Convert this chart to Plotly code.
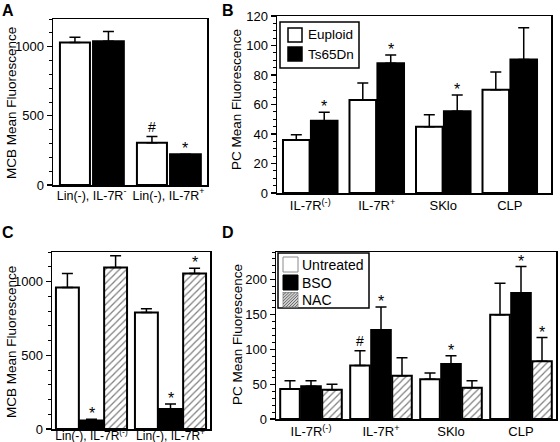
import plotly.graph_objects as go

W, H = 560, 442
FONT = "Liberation Sans, Arial, sans-serif"

# ---------------- data ----------------
# Panel A
a_cats = ["Lin(-), IL-7R<sup>-</sup>", "Lin(-), IL-7R<sup>+</sup>"]
a_euploid = [1030, 305]
a_euploid_err = [38, 45]
a_euploid_mark = ["", "#"]
a_ts65dn = [1040, 222]
a_ts65dn_err = [70, 0]
a_ts65dn_mark = ["", "*"]

# Panel B
b_cats = ["IL-7R<sup>(-)</sup>", "IL-7R<sup>+</sup>", "SKlo", "CLP"]
b_euploid = [36, 63, 45, 70]
b_euploid_err = [3.5, 11.5, 8, 12]
b_euploid_mark = ["", "", "", ""]
b_ts65dn = [49, 88, 55.5, 90.5]
b_ts65dn_err = [5.8, 5.5, 11, 21.5]
b_ts65dn_mark = ["*", "*", "*", ""]

# Panel C
c_cats = ["Lin(-), IL-7R<sup>(-)</sup>", "Lin(-), IL-7R<sup>+</sup>"]
c_untreated = [960, 790]
c_untreated_err = [95, 25]
c_untreated_mark = ["", ""]
c_bso = [58, 135]
c_bso_err = [8, 35]
c_bso_mark = ["*", "*"]
c_nac = [1095, 1055]
c_nac_err = [80, 35]
c_nac_mark = ["", "*"]

# Panel D
d_cats = ["IL-7R<sup>(-)</sup>", "IL-7R<sup>+</sup>", "SKlo", "CLP"]
d_untreated = [43, 77, 57, 150]
d_untreated_err = [12, 21, 9, 45]
d_untreated_mark = ["", "#", "", ""]
d_bso = [47, 128, 79, 181]
d_bso_err = [8, 33, 12, 38]
d_bso_mark = ["", "*", "*", "*"]
d_nac = [42, 62, 45, 83]
d_nac_err = [8, 26, 10, 34]
d_nac_mark = ["", "", "", "*"]

# legend labels
b_legend = ["Euploid", "Ts65Dn"]
d_legend = ["Untreated", "BSO", "NAC"]

# ---------------- layout helpers ----------------
def px(x):
    return x / W

def py(y):
    return 1 - y / H

def dx(l, r):
    return [l / W, r / W]

def dy(t, b):
    return [1 - b / H, 1 - t / H]

fig = go.Figure()
annotations = []
shapes = []

def add_bars(cats, vals, errs, marks, name, style, xa, ya, offset, width):
    if style == "white":
        marker = dict(color="white", line=dict(color="black", width=2))
    elif style == "black":
        marker = dict(color="black", line=dict(color="black", width=2))
    else:
        marker = dict(color="white", line=dict(color="black", width=2),
                      pattern=dict(shape="/", fgcolor="black", bgcolor="white",
                                   size=5, solidity=0.25))
    fig.add_trace(go.Bar(
        x=cats, y=vals, name=name, marker=marker,
        offset=offset, width=width,
        error_y=dict(type="data", symmetric=False, array=errs,
                     arrayminus=[0] * len(errs), color="black",
                     thickness=1.5, width=5.5),
        xaxis=xa, yaxis=ya, showlegend=False))
    for i, (v, e, m) in enumerate(zip(vals, errs, marks)):
        if m:
            annotations.append(dict(
                x=i + offset + width / 2, y=v + e, xref=xa, yref=ya,
                text=m, showarrow=False, yanchor="bottom",
                yshift=-5 if m == "*" else 0,
                font=dict(family=FONT, size=16 if m == "*" else 14,
                          color="black")))

# Panel A
add_bars(a_cats, a_euploid, a_euploid_err, a_euploid_mark, "Euploid", "white",
         "x", "y", -0.41, 0.39)
add_bars(a_cats, a_ts65dn, a_ts65dn_err, a_ts65dn_mark, "Ts65Dn", "black",
         "x", "y", 0.02, 0.40)
# Panel B
add_bars(b_cats, b_euploid, b_euploid_err, b_euploid_mark, "Euploid", "white",
         "x2", "y2", -0.41, 0.40)
add_bars(b_cats, b_ts65dn, b_ts65dn_err, b_ts65dn_mark, "Ts65Dn", "black",
         "x2", "y2", 0.01, 0.40)
# Panel C
add_bars(c_cats, c_untreated, c_untreated_err, c_untreated_mark, "Untreated",
         "white", "x3", "y3", -0.45, 0.29)
add_bars(c_cats, c_bso, c_bso_err, c_bso_mark, "BSO", "black",
         "x3", "y3", -0.145, 0.29)
add_bars(c_cats, c_nac, c_nac_err, c_nac_mark, "NAC", "hatch",
         "x3", "y3", 0.16, 0.29)
# Panel D
add_bars(d_cats, d_untreated, d_untreated_err, d_untreated_mark, "Untreated",
         "white", "x4", "y4", -0.44, 0.28)
add_bars(d_cats, d_bso, d_bso_err, d_bso_mark, "BSO", "black",
         "x4", "y4", -0.14, 0.28)
add_bars(d_cats, d_nac, d_nac_err, d_nac_mark, "NAC", "hatch",
         "x4", "y4", 0.16, 0.28)

def xaxis(domain, anchor, size, standoff, rng=None):
    d = dict(domain=domain, anchor=anchor, showline=True, linecolor="black",
             linewidth=1.5, mirror=True, ticks="",
             tickfont=dict(family=FONT, size=size, color="black"),
             tickangle=0, automargin=False, ticklabelstandoff=standoff,
             showgrid=False, zeroline=False, fixedrange=True)
    if rng is not None:
        d["range"] = rng
    return d

def yaxis(domain, anchor, rng, dtick, minor_dtick):
    return dict(domain=domain, anchor=anchor, range=rng, dtick=dtick,
                showline=True, linecolor="black", linewidth=1.5, mirror=True,
                ticks="outside", ticklen=5, tickwidth=1.2, tickcolor="black",
                minor=dict(dtick=minor_dtick, ticks="outside", ticklen=3,
                           tickwidth=1, tickcolor="black"),
                automargin=False, fixedrange=True,
                tickfont=dict(family=FONT, size=13, color="black"),
                showgrid=False, zeroline=False)

fig.update_layout(
    width=W, height=H, margin=dict(l=0, r=0, t=0, b=0, autoexpand=False),
    paper_bgcolor="white", plot_bgcolor="white",
    font=dict(family=FONT, color="black"),
    barmode="overlay", showlegend=False,
    xaxis=xaxis(dx(53, 207), "y", 12.5, -2),
    yaxis=yaxis(dy(19, 185), "x", [0, 1200], 500, 100),
    xaxis2=xaxis(dx(277, 551), "y2", 13, 0, [-0.5, 3.62]),
    yaxis2=yaxis(dy(16, 193), "x2", [0, 120], 20, 5),
    xaxis3=xaxis(dx(52, 210), "y3", 12, -5),
    yaxis3=yaxis(dy(252, 429), "x3", [0, 1200], 500, 100),
    xaxis4=xaxis(dx(276, 556), "y4", 13, 0),
    yaxis4=yaxis(dy(252, 419), "x4", [0, 240], 50, 10),
)

# ---------------- legends (drawn as boxes + labels) ----------------
def rect(x0, y0, x1, y1, fill, line_color, lw):
    shapes.append(dict(type="rect", xref="paper", yref="paper",
                       x0=px(x0), x1=px(x1), y0=py(y1), y1=py(y0),
                       fillcolor=fill, line=dict(color=line_color, width=lw)))

def label(txt, x, y, size):
    annotations.append(dict(text=txt, x=px(x), y=py(y), xref="paper",
                            yref="paper", showarrow=False, xanchor="left",
                            yanchor="middle",
                            font=dict(family=FONT, size=size, color="black")))

# Legend B
rect(280, 22, 359, 68, "white", "black", 1.5)
rect(288, 28, 302, 42, "white", "black", 1.5)
label(b_legend[0], 306, 35, 13.5)
rect(288, 47, 302, 61, "black", "black", 1.5)
label(b_legend[1], 306, 54, 13.5)

# Legend D
rect(278, 253, 369, 308, "white", "black", 1.5)
rect(283, 257, 298, 272, "white", "#8a8a8a", 1)
label(d_legend[0], 300, 265, 14)
rect(283, 275, 298, 290, "black", "black", 1)
label(d_legend[1], 300, 282.5, 14)
rect(283, 292.5, 298, 307, "#cfcfcf", "#9a9a9a", 1)
hatch = ""
for k in range(-15, 16, 3):
    sx0 = max(283, 283 + k)
    sy0 = 307 - (sx0 - (283 + k))
    sx1 = min(298, 298 + k)
    sy1 = max(307 - (sx1 - (283 + k)), 292.5)
    hatch += f"M{px(sx0)},{py(sy0)} L{px(sx1)},{py(sy1)} "
shapes.append(dict(type="path", xref="paper", yref="paper", path=hatch,
                   line=dict(color="#6e6e6e", width=1)))
label(d_legend[2], 300, 300, 14)

# Panel letters and y-axis titles
for txt, x, y in [("A", 8, 10), ("B", 228, 10), ("C", 8, 232), ("D", 228, 232)]:
    annotations.append(dict(text=f"<b>{txt}</b>", x=px(x), y=py(y),
                            xref="paper", yref="paper", showarrow=False,
                            xanchor="center", yanchor="middle",
                            font=dict(family=FONT, size=16, color="black")))
for txt, x, y in [("MCB Mean Fluorescence", 11, 103),
                  ("PC Mean Fluorescence", 237, 100),
                  ("MCB Mean Fluorescence", 11, 342),
                  ("PC Mean Fluorescence", 237, 335)]:
    annotations.append(dict(text=txt, x=px(x), y=py(y), xref="paper",
                            yref="paper", showarrow=False, textangle=-90,
                            xanchor="center", yanchor="middle",
                            font=dict(family=FONT, size=13.5, color="black")))

fig.update_layout(annotations=annotations, shapes=shapes)
fig.write_html("out.html",
               config={"displayModeBar": False, "staticPlot": True},
               post_script="document.body.style.margin='0';"
                           "document.body.style.overflow='hidden';")
